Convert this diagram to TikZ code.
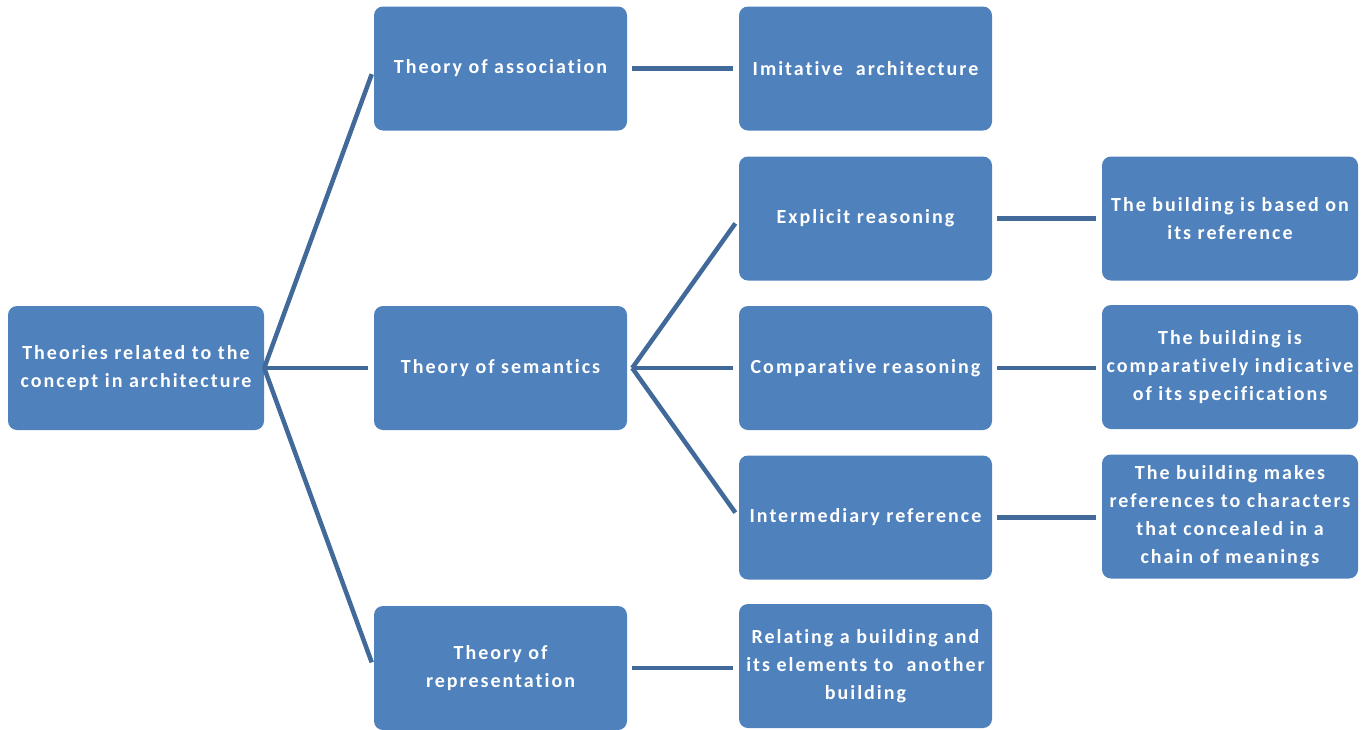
\documentclass[tikz,border=0pt]{standalone}
\usepackage{fontspec}
\setmainfont{Carlito}[LetterSpace=10,Ligatures=NoCommon]
\definecolor{boxfill}{HTML}{4F81BD}
\definecolor{linkcol}{HTML}{41699A}
\begin{document}
\begin{tikzpicture}[x=1pt,y=-1pt,
  box/.style={fill=boxfill,draw=none,rounded corners=9pt,text=white,
    font=\bfseries\fontsize{20}{28}\selectfont,align=center,inner sep=2pt},
  wbox/.style={box,minimum width=256pt,minimum height=124pt},
  nbox/.style={box,minimum width=253pt,minimum height=124pt},
  link/.style={draw=linkcol,line width=4.5pt},
  gap/.style={shorten <=5pt,shorten >=6pt}]
\useasboundingbox (0,0) rectangle (1365,729);
\clip (0,0) rectangle (1365,729);
\node[wbox] (root) at (136,368) {Theories related to the\\concept in architecture};
\node[nbox] (assoc) at (500.5,68.5) {Theory of association};
\node[nbox] (sem) at (500.5,368) {Theory of semantics};
\node[nbox] (repr) at (500.5,668) {Theory of\\representation};
\node[nbox] (imit) at (865.5,68.5) {Imitative\ \ architecture};
\node[nbox] (expl) at (865.5,218.5) {Explicit reasoning};
\node[nbox] (comp) at (865.5,368) {Comparative reasoning};
\node[nbox] (inter) at (865.5,517.5) {Intermediary reference};
\node[nbox] (rel) at (865.5,666) {Relating a building and\\its elements to\ \ another\\building};
\node[wbox] (based) at (1230,218.5) {The building is based on\\its reference};
\node[wbox] (indic) at (1230,367) {The building is\\comparatively indicative\\of its specifications};
\node[wbox] (chain) at (1230,516.5) {The building makes\\references to characters\\that concealed in a\\chain of meanings};
\draw[link,shorten >=6pt] (root.east) -- (assoc.west);
\draw[link,shorten >=6pt] (root.east) -- (sem.west);
\draw[link,shorten >=6pt] (root.east) -- (repr.west);
\draw[link,gap] (assoc.east) -- (assoc.east -| imit.west);
\draw[link,gap] (repr.east) -- (repr.east -| rel.west);
\draw[link,shorten >=6pt] ([xshift=5pt]sem.east) -- (expl.west);
\draw[link,gap] (sem.east) -- (comp.west);
\draw[link,shorten >=6pt] ([xshift=5pt]sem.east) -- (inter.west);
\draw[link,gap] (expl.east) -- (expl.east -| based.west);
\draw[link,gap] (comp.east) -- (comp.east -| indic.west);
\draw[link,gap] (inter.east) -- (inter.east -| chain.west);
\end{tikzpicture}
\end{document}
